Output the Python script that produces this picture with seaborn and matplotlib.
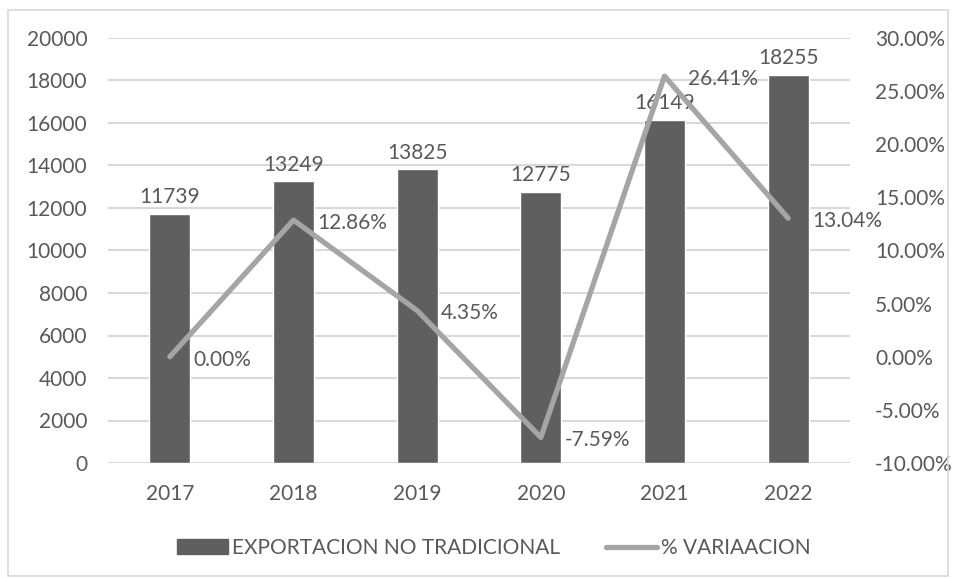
import matplotlib
matplotlib.use("Agg")
import matplotlib.pyplot as plt
import seaborn as sns
import numpy as np
import pandas as pd
from matplotlib.patches import Rectangle
from matplotlib.lines import Line2D
from matplotlib.ticker import FuncFormatter, MultipleLocator

years = ["2017", "2018", "2019", "2020", "2021", "2022"]
exports = [11739, 13249, 13825, 12775, 16149, 18255]
variation = [0.00, 12.86, 4.35, -7.59, 26.41, 13.04]
bar_name = "EXPORTACION NO TRADICIONAL"
line_name = "% VARIAACION"

sns.set_theme(style="white")
plt.rcParams["font.family"] = ["Lato", "DejaVu Sans"]

TEXT = "#595959"
BAR = "#5f5f5f"
LINE = "#a5a5a5"
GRID = "#d9d9d9"
FS = 15

fig = plt.figure(figsize=(9.54, 5.78), dpi=100)
ax = fig.add_axes([108/954, 1-463/578, (850-108)/954, (463-38)/578])

df = pd.DataFrame({"year": years, "value": exports})
sns.barplot(data=df, x="year", y="value", ax=ax, color=BAR, saturation=1,
            width=0.33, zorder=2)
ax.set_ylim(0, 20000)
ax.yaxis.set_major_locator(MultipleLocator(2000))
ax.set_xlim(-0.5, len(years)-0.5)
ax.grid(axis="y", color=GRID, linewidth=1.5, zorder=0)
ax.set_axisbelow(True)
for s in ax.spines.values():
    s.set_visible(False)
ax.set_xlabel("")
ax.set_ylabel("")
ax.tick_params(axis="both", length=0, labelsize=FS, labelcolor=TEXT)
ax.tick_params(axis="y", pad=15)
ax.tick_params(axis="x", pad=15)

for i, v in enumerate(exports):
    ax.annotate(f"{v}", (i, v), xytext=(0, 12), textcoords="offset points",
                ha="center", va="center", fontsize=FS, color=TEXT, zorder=5)

ax2 = ax.twinx()
sns.lineplot(x=np.arange(len(years)), y=variation, ax=ax2, color=LINE,
             linewidth=3.8, zorder=3)
ax2.lines[0].set_solid_capstyle("round")
ax2.set_ylim(-10, 30)
ax2.yaxis.set_major_locator(MultipleLocator(5))
ax2.yaxis.set_major_formatter(FuncFormatter(lambda v, p: f"{v:.2f}%"))
for s in ax2.spines.values():
    s.set_visible(False)
ax2.tick_params(axis="y", length=0, labelsize=FS, labelcolor=TEXT, pad=18)
ax2.set_ylabel("")
ax2.set_xlim(-0.5, len(years)-0.5)

for i, v in enumerate(variation):
    ax2.annotate(f"{v:.2f}%", (i, v), xytext=(17, -2), textcoords="offset points",
                 ha="left", va="center", fontsize=FS, color=TEXT, zorder=6)

handles = [Rectangle((0, 0), 1, 1, color=BAR),
           Line2D([0], [0], color=LINE, linewidth=3.8, solid_capstyle="round")]
fig.legend(handles, [bar_name, line_name], loc="center", ncol=2,
           bbox_to_anchor=(494/954, 1-548/578), frameon=False, fontsize=FS,
           labelcolor=TEXT, handlelength=2.45, handletextpad=0.2, columnspacing=2.2)

fig.patches.append(Rectangle((8/954, 1-576/578), (948-8)/954, (576-10)/578,
                             transform=fig.transFigure, fill=False,
                             edgecolor=GRID, linewidth=1.2))

fig.savefig("out.png", dpi=100)
